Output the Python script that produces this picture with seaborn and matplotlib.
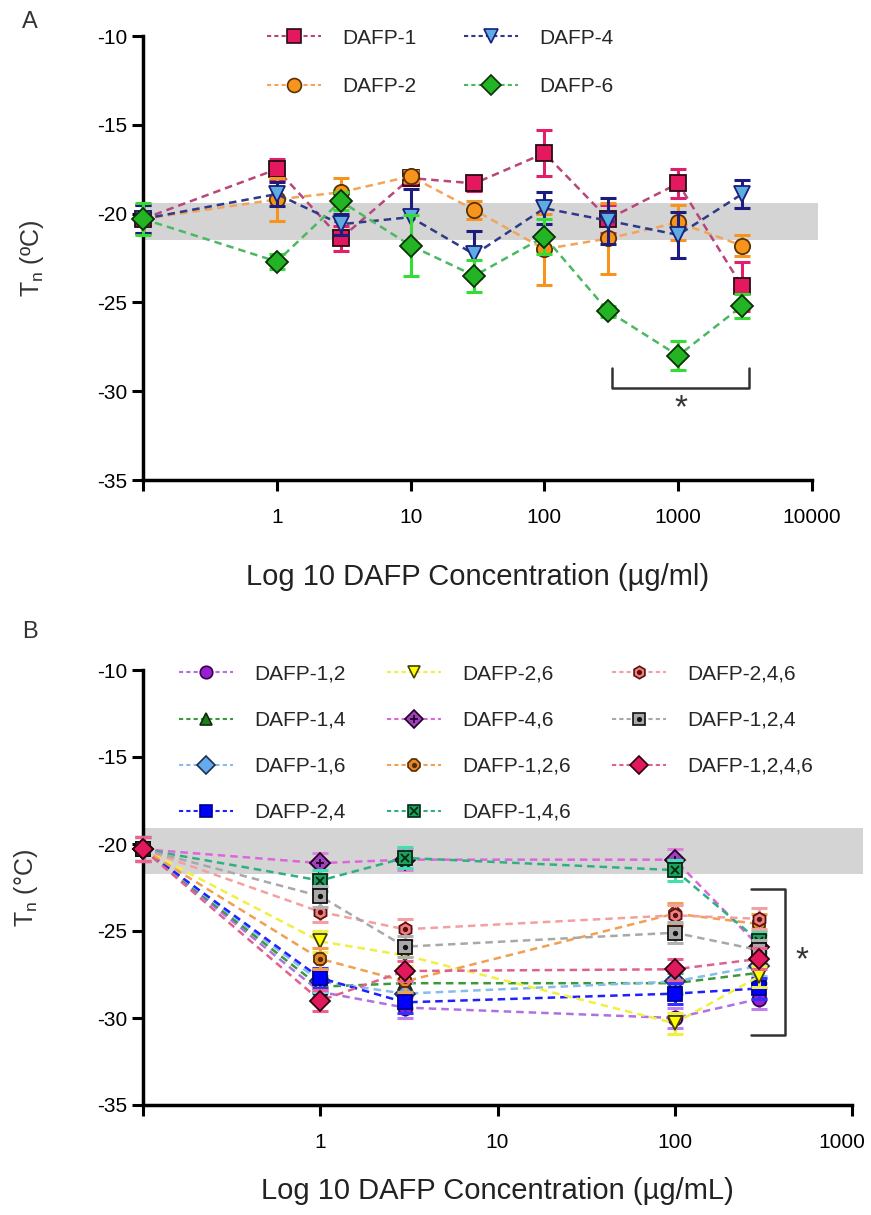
import numpy as np
import matplotlib
matplotlib.use('Agg')
import matplotlib.pyplot as plt
import matplotlib.transforms as mtransforms
import seaborn as sns
from matplotlib.lines import Line2D
from matplotlib.legend_handler import HandlerTuple
from matplotlib.ticker import NullLocator

sns.set_style('ticks')
plt.rcParams['font.family'] = ['Liberation Sans', 'DejaVu Sans']
plt.rcParams['mathtext.default'] = 'regular'
plt.rcParams['axes.unicode_minus'] = False

# ---- panel A data (Tn in degC, mean and error) ----
conc_a = [0.1, 1, 3, 10, 30, 100, 300, 1000, 3000]
names_a = ['DAFP-1', 'DAFP-2', 'DAFP-4', 'DAFP-6']
dafp1 = [-20.3, -17.5, -21.4, -18.0, -18.3, -16.6, -20.3, -18.3, -24.1]
dafp1_err = [0.8, 0.6, 0.7, 0.4, 0.4, 1.3, 0.8, 0.8, 1.4]
dafp2 = [-20.3, -19.2, -18.8, -17.9, -19.8, -22.0, -21.4, -20.5, -21.8]
dafp2_err = [0.8, 1.2, 0.8, 0.3, 0.5, 2.0, 2.0, 1.0, 0.6]
dafp4 = [-20.3, -18.9, -20.6, -20.2, -22.3, -19.7, -20.4, -21.2, -18.9]
dafp4_err = [0.8, 0.7, 0.6, 1.6, 1.3, 0.9, 1.3, 1.3, 0.8]
dafp6 = [-20.3, -22.7, -19.3, -21.8, -23.5, -21.3, -25.5, -28.0, -25.2]
dafp6_err = [0.9, 0.4, 0.5, 1.7, 0.9, 1.0, 0.3, 0.8, 0.7]
band_a = [-19.4, -21.5]

# ---- panel B data ----
conc_b = [0.1, 1, 3, 100, 300]
names_b = ['DAFP-1,2', 'DAFP-1,4', 'DAFP-1,6', 'DAFP-2,4', 'DAFP-2,6', 'DAFP-4,6',
           'DAFP-1,2,6', 'DAFP-1,4,6', 'DAFP-2,4,6', 'DAFP-1,2,4', 'DAFP-1,2,4,6']
d12 = [-20.3, -28.5, -29.4, -30.0, -28.9]
d14 = [-20.3, -28.2, -28.0, -28.0, -27.4]
d16 = [-20.3, -27.9, -28.6, -27.9, -27.0]
d24 = [-20.3, -27.7, -29.1, -28.6, -28.3]
d26 = [-20.3, -25.6, -26.4, -30.3, -27.6]
d46 = [-20.3, -21.1, -20.9, -20.9, -25.9]
d126 = [-20.3, -26.6, -27.9, -24.0, -24.6]
d146 = [-20.3, -22.1, -20.8, -21.5, -25.6]
d246 = [-20.3, -23.9, -24.9, -24.1, -24.3]
d124 = [-20.3, -23.0, -25.9, -25.1, -26.1]
d1246 = [-20.3, -29.0, -27.3, -27.2, -26.6]
err_b = [0.7, 0.6, 0.6, 0.6, 0.6]
band_b = [-19.1, -21.7]

vals_a = [dafp1, dafp2, dafp4, dafp6]
errs_a = [dafp1_err, dafp2_err, dafp4_err, dafp6_err]
vals_b = [d12, d14, d16, d24, d26, d46, d126, d146, d246, d124, d1246]

# styles: (marker, face, edge, line colour, errorbar colour, overlay marker)
style_a = [
    ('s', '#E3185F', '#2a0a14', '#B8467A', '#E0206A', None),
    ('o', '#F7941D', '#5a3000', '#F2A55A', '#F7941D', None),
    ('v', '#5DADE2', '#1A1F7A', '#2E3A87', '#1C1C80', None),
    ('D', '#22B422', '#0a300a', '#4CB860', '#33DD33', None),
]
style_b = [
    ('o', '#9A1FD0', '#3a0050', '#B070E0', '#C080F0', None),
    ('^', '#1E7B1E', '#0a2a0a', '#3A9A3A', '#50B050', None),
    ('D', '#66AAEE', '#1a3050', '#88BBEE', '#88CCEE', None),
    ('s', '#0000FF', '#00008a', '#2020FF', '#3030FF', None),
    ('v', '#FFFF00', '#404000', '#F0F040', '#F0F040', None),
    ('D', '#A040C0', '#200020', '#DD66DD', '#E080E0', '+'),
    ('8', '#E08A30', '#5a2a00', '#F0A050', '#F0A050', '.'),
    ('s', '#1FA060', '#002a10', '#30B080', '#40E0B0', 'x'),
    ('h', '#F08080', '#5a1010', '#F4A0A0', '#F4A0A0', '.'),
    ('s', '#A9A9A9', '#111111', '#A8A8A8', '#B0B0B0', '.'),
    ('D', '#E0185C', '#300010', '#E06090', '#F06090', None),
]

dash = (0, (3, 2))


def draw_panel(ax, xs, vals, errs, styles, ms):
    for i, (v, e, st) in enumerate(zip(vals, errs, styles)):
        m, fc, ec, lc, erc, over = st
        z = 3 + i
        ax.errorbar(xs, v, yerr=e, fmt='none', ecolor=erc, elinewidth=2.2,
                    capsize=6, capthick=2.2, zorder=z, clip_on=False)
        sns.lineplot(x=xs, y=v, ax=ax, color=lc, linestyle=dash, lw=1.8,
                     marker=m, ms=ms, markerfacecolor=fc, markeredgecolor=ec,
                     markeredgewidth=1.3, zorder=z + 0.5, clip_on=False,
                     errorbar=None)
        if over is not None:
            ax.plot(xs, v, ls='none', marker=over, color=ec,
                    ms=ms * 0.6 if over != '.' else 5, mew=1.3,
                    zorder=z + 0.6, clip_on=False)


def legend_handles(styles, ms):
    hs = []
    for m, fc, ec, lc, erc, over in styles:
        h = Line2D([], [], color=lc, linestyle=(0, (2, 1.5)), lw=1.5, marker=m,
                   ms=ms, markerfacecolor=fc, markeredgecolor=ec, markeredgewidth=1.2)
        if over is not None:
            h2 = Line2D([], [], ls='none', marker=over, color=ec,
                        ms=ms * 0.6 if over != '.' else 5, mew=1.2)
            h = (h, h2)
        hs.append(h)
    return hs


def style_axis(ax, xmax, xticks, xlabel, ylabel, pad):
    ax.set_xscale('log')
    ax.set_xlim(0.1, xmax)
    ax.set_ylim(-35, -10)
    ax.set_yticks([-35, -30, -25, -20, -15, -10])
    ax.set_xticks([0.1] + xticks)
    ax.set_xticklabels([''] + [str(t) for t in xticks])
    ax.xaxis.set_minor_locator(NullLocator())
    sns.despine(ax=ax)
    for s in ['left', 'bottom']:
        ax.spines[s].set_linewidth(2.5)
        ax.spines[s].set_color('black')
    ax.tick_params(width=2.2, length=8, labelsize=15, colors='black', direction='out')
    ax.tick_params(axis='x', pad=12)
    ax.set_xlabel(xlabel, fontsize=21, labelpad=pad, color='#222222')
    ax.set_ylabel(ylabel, fontsize=18, color='#333333')
    ax.yaxis.set_label_coords(-0.145, 0.5)


fig = plt.figure(figsize=(8.71, 12.15), dpi=100)
W, H = 871, 1215
axA = fig.add_axes([143 / W, 1 - 480 / H, (812 - 143) / W, (480 - 36) / H])
axB = fig.add_axes([143 / W, 1 - 1105 / H, (852 - 143) / W, (1105 - 670) / H])

hmap = {tuple: HandlerTuple(ndivide=1, pad=0)}

# ---- panel A ----
axA.fill_between([0.1, 11000], band_a[0], band_a[1], color='#D4D4D4', lw=0,
                 zorder=1, clip_on=False)
draw_panel(axA, conc_a, vals_a, errs_a, style_a, 11)
axA.plot([320, 320, 3400, 3400], [-28.7, -29.8, -29.8, -28.7], color='#333333', lw=1.8)
axA.text(1050, -31.0, '*', fontsize=24, ha='center', va='center', color='#333333')
style_axis(axA, 10000, [1, 10, 100, 1000, 10000],
           'Log 10 DAFP Concentration (\u00b5g/ml)', 'T$_n$ (\u00baC)', 26)
axA.legend(legend_handles(style_a, 10), names_a, ncol=2, frameon=False, fontsize=15,
           loc='upper left', bbox_to_anchor=(248 / W, 1 - 10 / H),
           bbox_transform=fig.transFigure, handlelength=2.6, handletextpad=1.0,
           columnspacing=2.3, labelspacing=1.4, handler_map=hmap)
fig.text(30 / W, 1 - 22 / H, 'A', fontsize=17, ha='center', va='center', color='#333333')

# ---- panel B ----
axB.fill_between([0.1, 1150], band_b[0], band_b[1], color='#D4D4D4', lw=0,
                 zorder=1, clip_on=False)
errs_b = [err_b] * len(vals_b)
draw_panel(axB, conc_b, vals_b, errs_b, style_b, 10)
axB.plot([270, 420, 420, 270], [-22.6, -22.6, -31.0, -31.0], color='#333333', lw=1.8)
axB.text(520, -26.7, '*', fontsize=24, ha='center', va='center', color='#333333')
style_axis(axB, 1000, [1, 10, 100, 1000],
           'Log 10 DAFP Concentration (\u00b5g/mL)', 'T$_n$ (\u00b0C)', 18)
# keep the last tick label inside the figure
last = axB.get_xticklabels()[-1]
last.set_transform(last.get_transform() +
                   mtransforms.ScaledTranslation(-7 / 72, 0, fig.dpi_scale_trans))
axB.legend(legend_handles(style_b, 9), names_b, ncol=3, frameon=False, fontsize=15,
           loc='upper left', bbox_to_anchor=(160 / W, 1 - 646 / H),
           bbox_transform=fig.transFigure, handlelength=2.6, handletextpad=1.0,
           columnspacing=2.0, labelspacing=1.3, handler_map=hmap)
fig.text(30 / W, 1 - 632 / H, 'B', fontsize=17, ha='center', va='center', color='#333333')

fig.savefig('out.png', dpi=100, facecolor='white')
